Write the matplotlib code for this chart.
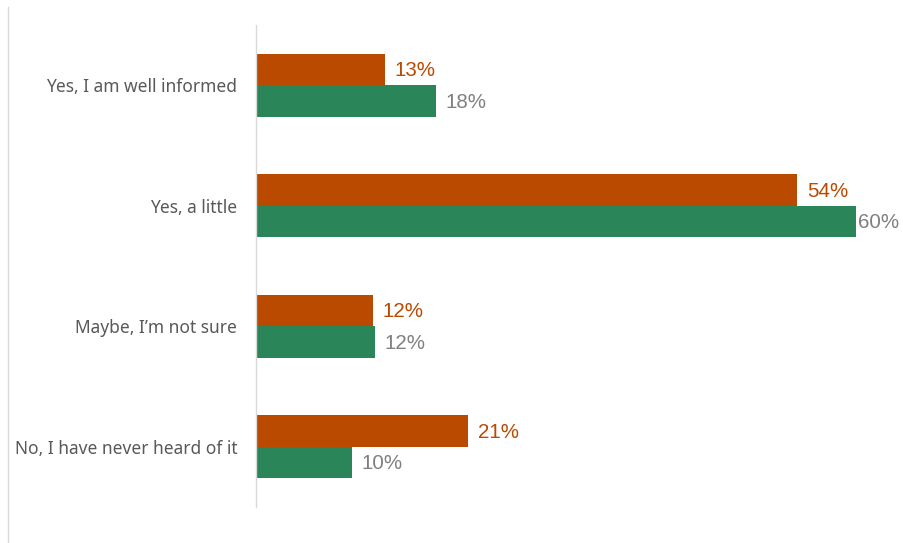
import numpy as np
import matplotlib
matplotlib.use("Agg")
import matplotlib.pyplot as plt
from matplotlib.lines import Line2D

# data
categories = ["Yes, I am well informed", "Yes, a little",
              "Maybe, I\u2019m not sure", "No, I have never heard of it"]
vals_orange = [12.9, 54.1, 11.7, 21.2]
vals_green = [18.0, 60.0, 11.9, 9.6]

orange = "#BA4A00"
green = "#2A8659"

plt.rcParams['font.family'] = ['Noto Sans', 'DejaVu Sans']

fig = plt.figure(figsize=(9.04, 5.43), dpi=100)
# axes: x from 256px, 0..64 -> 10px per percent; y from 25px to 507px
ax = fig.add_axes([256/904, (543-507)/543, 640/904, 482/543])

y = np.arange(len(categories))
h = 0.262
ax.barh(y - h/2, vals_orange, height=h, color=orange)
ax.barh(y + h/2, vals_green, height=h, color=green)

xmax = 64
for i in range(len(categories)):
    ax.text(vals_orange[i] + 1.0, y[i] - h/2 + 0.01, "%d%%" % round(vals_orange[i]),
            va='center', ha='left', color=orange, fontsize=14.8,
            family='Liberation Sans')
    # labels that would run off the right side get pushed in
    ax.text(min(vals_green[i] + 1.0, xmax - 3.8), y[i] + h/2 + 0.01,
            "%d%%" % round(vals_green[i]),
            va='center', ha='left', color='#808080', fontsize=14.8,
            family='Liberation Sans')

ax.set_xlim(0, xmax)
ax.set_ylim(len(categories) - 0.5, -0.5)
ax.set_yticks(y)
ax.set_yticklabels(categories, fontsize=12.5, color='#595959')
ax.tick_params(axis='y', length=0, pad=13.5)
ax.set_xticks([])
for s in ['top', 'right', 'bottom']:
    ax.spines[s].set_visible(False)
ax.spines['left'].set_color('#D9D9D9')
ax.spines['left'].set_linewidth(1)

# outer frame line at the left edge
fig.add_artist(Line2D([8/904, 8/904], [0, 1 - 7/543], transform=fig.transFigure,
                      color='#D9D9D9', lw=1))

fig.savefig("out.png", dpi=100)
